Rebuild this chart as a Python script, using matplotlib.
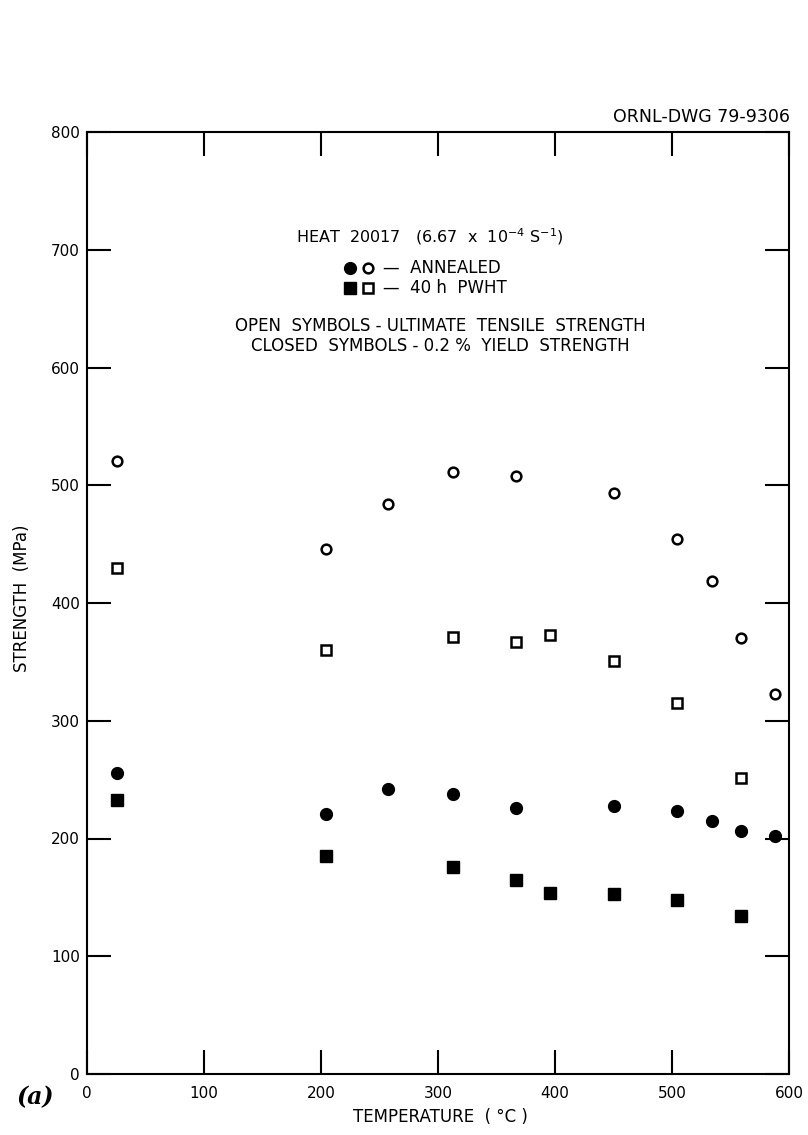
import matplotlib
matplotlib.use("Agg")
import matplotlib.pyplot as plt

# Heat 20017, strain rate 6.67e-4 /s
annealed_temp = [26, 204, 257, 313, 367, 450, 504, 534, 559, 588]
annealed_uts = [521, 446, 484, 511, 508, 493, 454, 419, 370, 323]
annealed_ys = [256, 221, 242, 238, 226, 228, 223, 215, 206, 202]

pwht_temp = [26, 204, 313, 367, 396, 450, 504, 559]
pwht_uts = [430, 360, 371, 367, 373, 351, 315, 251]
pwht_ys = [233, 185, 176, 165, 154, 153, 148, 134]

x_ticks = [0, 100, 200, 300, 400, 500, 600]
y_ticks = [0, 100, 200, 300, 400, 500, 600, 700, 800]

W, H = 808, 1135
fig = plt.figure(figsize=(W / 100, H / 100), dpi=100)
plt.rcParams["font.family"] = ["DejaVu Sans"]

# axes box in pixels: left 87, right 789, top 132, bottom 1074
ax = fig.add_axes([87 / W, 1 - 1074 / H, (789 - 87) / W, (1074 - 132) / H])
ax.set_xlim(0, 600)
ax.set_ylim(0, 800)
ax.set_xticks(x_ticks)
ax.set_yticks(y_ticks)
ax.tick_params(direction="in", length=17, width=1.5, top=True, right=True,
               labelsize=11)
ax.tick_params(axis="x", pad=9)
ax.tick_params(axis="y", pad=5)
for s in ax.spines.values():
    s.set_linewidth(1.5)

open_kw = dict(ls="none", mfc="white", mec="black", mew=1.8, color="black")
closed_kw = dict(ls="none", mfc="black", mec="black", color="black")

ax.plot(annealed_temp, annealed_uts, "o", ms=7, **open_kw)
ax.plot(pwht_temp, pwht_uts, "s", ms=7, **open_kw)
ax.plot(annealed_temp, annealed_ys, "o", ms=8.5, **closed_kw)
ax.plot(pwht_temp, pwht_ys, "s", ms=8, **closed_kw)


def px(x, y):
    """pixel position -> figure fraction"""
    return x / W, 1 - y / H


# key and notes inside the plot
fig.text(*px(430, 237), r"HEAT  20017   (6.67  x  10$^{-4}$ S$^{-1}$)",
         ha="center", va="center", fontsize=11.5)

key_ax = fig.add_axes([0, 0, 1, 1], facecolor="none")
key_ax.set_xlim(0, W)
key_ax.set_ylim(H, 0)
key_ax.axis("off")
key_ax.plot([350], [268], "o", ms=8.5, **closed_kw)
key_ax.plot([368], [268], "o", ms=7, **open_kw)
key_ax.plot([350], [288], "s", ms=8, **closed_kw)
key_ax.plot([368], [288], "s", ms=7, **open_kw)
fig.text(*px(383, 268), "\u2014  ANNEALED", ha="left", va="center", fontsize=12)
fig.text(*px(383, 288), "\u2014  40 h  PWHT", ha="left", va="center", fontsize=12)

fig.text(*px(440, 326), "OPEN  SYMBOLS - ULTIMATE  TENSILE  STRENGTH",
         ha="center", va="center", fontsize=12)
fig.text(*px(440, 346), "CLOSED  SYMBOLS - 0.2 %  YIELD  STRENGTH",
         ha="center", va="center", fontsize=12)

fig.text(*px(790, 117), "ORNL-DWG 79-9306", ha="right", va="center",
         fontsize=12.5)

fig.text(*px(22, 598), "STRENGTH  (MPa)", rotation=90, ha="center",
         va="center", fontsize=12)
fig.text(*px(440, 1117), "TEMPERATURE  ( \u00b0C )", ha="center", va="center",
         fontsize=12)
fig.text(*px(35, 1097), "(a)", ha="center", va="center", fontsize=17,
         family="DejaVu Serif", weight="bold", style="italic")

fig.savefig("out.png", dpi=100)
